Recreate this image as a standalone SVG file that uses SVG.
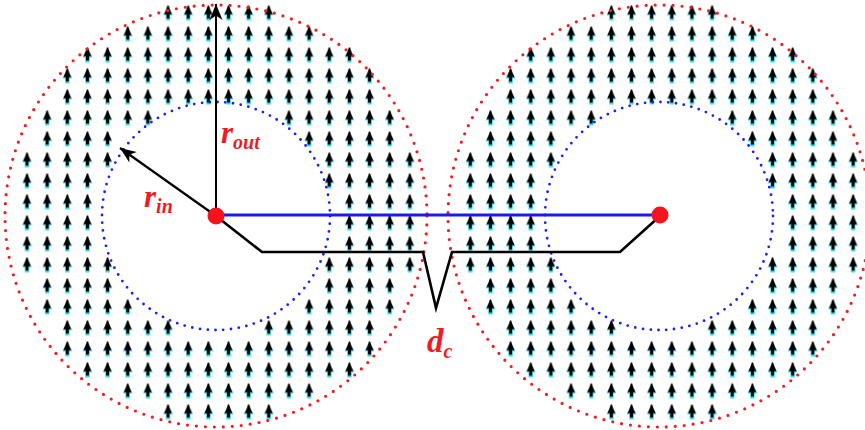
<svg xmlns="http://www.w3.org/2000/svg" width="865" height="430" viewBox="0 0 865 430">
<defs>
<style>
.outer{fill:none;stroke:#f01e23;stroke-width:3.2;stroke-dasharray:0 9;stroke-linecap:round}
.inner{fill:none;stroke:#1e1eff;stroke-width:2.8;stroke-dasharray:0 7.8;stroke-linecap:round}
.lbl{font-family:"Liberation Serif","Times New Roman",serif;font-weight:bold;font-style:italic;fill:#ee1c24}
.conn{fill:none;stroke:#000;stroke-width:2.6;stroke-linejoin:miter}
.field{fill:url(#field)}
.dot{fill:#f5141e}
</style>
<pattern id="field" patternUnits="userSpaceOnUse" x="16.925" y="2.5" width="20.15" height="21">
<g transform="translate(10.075,10.5)">
<path fill="#2bdde6" d="M0,-6.5 L4.8,2.2 L2.1,2.2 L2.1,7.6 L-2.1,7.6 L-2.1,2.2 L-4.8,2.2 Z"/>
<path fill="#000" d="M-0.6,-7.5 L0.6,-7.5 L1.9,-3.5 L4,1.2 L1.5,1.2 L1.5,5.6 L-1.5,5.6 L-1.5,1.2 L-4,1.2 L-1.9,-3.5 Z"/>
</g>
</pattern>
<marker id="ah" markerUnits="userSpaceOnUse" markerWidth="20" markerHeight="16" refX="17" refY="8" orient="auto" viewBox="0 0 20 16">
<path d="M17,8 L1,1.5 L5.5,8 L1,14.5 Z" fill="#000"/>
</marker>
<g id="arrowfield">
<rect class="field" x="157.975" y="2.5" width="120.9" height="21"/>
<rect class="field" x="117.675" y="23.5" width="201.5" height="21"/>
<rect class="field" x="77.375" y="44.5" width="282.1" height="21"/>
<rect class="field" x="57.225" y="65.5" width="322.4" height="21"/>
<rect class="field" x="57.225" y="86.5" width="322.4" height="21"/>
<rect class="field" x="37.075" y="107.5" width="120.9" height="21"/>
<rect class="field" x="278.875" y="107.5" width="120.9" height="21"/>
<rect class="field" x="37.075" y="128.5" width="80.6" height="21"/>
<rect class="field" x="299.025" y="128.5" width="100.75" height="21"/>
<rect class="field" x="16.925" y="149.5" width="100.75" height="21"/>
<rect class="field" x="319.175" y="149.5" width="100.75" height="21"/>
<rect class="field" x="16.925" y="170.5" width="80.6" height="21"/>
<rect class="field" x="319.175" y="170.5" width="100.75" height="21"/>
<rect class="field" x="16.925" y="191.5" width="80.6" height="63"/>
<rect class="field" x="339.325" y="191.5" width="80.6" height="63"/>
<rect class="field" x="16.925" y="254.5" width="100.75" height="21"/>
<rect class="field" x="319.175" y="254.5" width="100.75" height="21"/>
<rect class="field" x="37.075" y="275.5" width="80.6" height="21"/>
<rect class="field" x="319.175" y="275.5" width="80.6" height="21"/>
<rect class="field" x="37.075" y="296.5" width="100.75" height="21"/>
<rect class="field" x="299.025" y="296.5" width="100.75" height="21"/>
<rect class="field" x="57.225" y="317.5" width="120.9" height="21"/>
<rect class="field" x="258.725" y="317.5" width="120.9" height="21"/>
<rect class="field" x="57.225" y="338.5" width="322.4" height="21"/>
<rect class="field" x="77.375" y="359.5" width="282.1" height="21"/>
<rect class="field" x="117.675" y="380.5" width="201.5" height="21"/>
<rect class="field" x="157.975" y="401.5" width="120.9" height="21"/>
</g>
</defs>
<rect width="865" height="430" fill="#fff"/>
<g id="ring-left">
<use href="#arrowfield"/>
<circle class="outer" cx="216" cy="216" r="211"/>
<circle class="inner" cx="216" cy="216" r="114"/>
</g>
<g id="ring-right">
<use href="#arrowfield" transform="translate(443.3,0)"/>
<circle class="outer" cx="659" cy="216" r="211"/>
<circle class="inner" cx="659" cy="216" r="114"/>
</g>
<g id="connectors">
<line x1="216" y1="216" x2="216" y2="4" stroke="#000" stroke-width="2" marker-end="url(#ah)"/>
<line x1="216" y1="216" x2="120" y2="148" stroke="#000" stroke-width="2.2" marker-end="url(#ah)"/>
<line x1="216" y1="215" x2="659" y2="215" stroke="#1a1aee" stroke-width="3.2"/>
<polyline class="conn" points="216,216 262,252 423,252 436,308 452,252 620,252 660,216"/>
</g>
<g id="center-left"><circle class="dot" cx="216" cy="216" r="8.5"/></g>
<g id="center-right"><circle class="dot" cx="660" cy="215" r="8.5"/></g>
<g id="labels">
<text class="lbl" x="221" y="143" font-size="31">r<tspan font-size="20" dy="6">out</tspan></text>
<text class="lbl" x="144" y="207" font-size="31">r<tspan font-size="20" dy="6">in</tspan></text>
<text class="lbl" x="427" y="352" font-size="33">d<tspan font-size="20" dy="6">c</tspan></text>
</g>
</svg>
